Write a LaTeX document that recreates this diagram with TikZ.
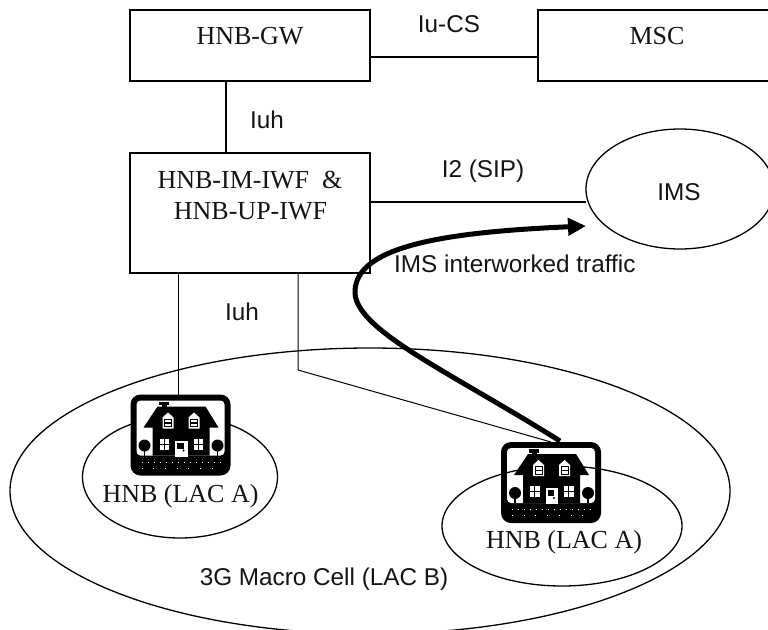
\documentclass[tikz,border=0pt]{standalone}
\usepackage{fontspec}
\setmainfont{Liberation Serif}
\newfontfamily\lsans{Liberation Sans}
\usetikzlibrary{shapes.geometric,arrows.meta}
\tikzset{
  boxnode/.style={draw=black,line width=1.7pt,rectangle,inner sep=0pt,outer sep=0pt},
  ellnode/.style={draw=black,line width=1.3pt,ellipse,inner sep=0pt,outer sep=0pt},
  link/.style={draw=black,line width=1.7pt},
  thinlink/.style={draw=black,line width=1pt},
  serif/.style={font=\fontsize{26}{30}\selectfont,anchor=base,inner sep=0pt,text=black!92},
  sans/.style={font=\lsans\fontsize{24.3}{28}\selectfont,anchor=base,inner sep=0pt,text=black!92},
  hnbicon/.style={rectangle,rounded corners=10pt,inner sep=0pt,outer sep=0pt,minimum width=100pt,minimum height=81pt,fill=black},
}
\newcommand{\hnbsky}[2]{%
\begin{scope}[shift={(#1,#2)}]
  \fill[white,rounded corners=4pt] (6,6) -- (94,6) -- (94,61) -- (6,61) -- cycle;
\end{scope}}
\newcommand{\hnbdetail}[2]{%
\begin{scope}[shift={(#1,#2)}]
  \fill[black] (13,33) -- (27,12) -- (75,12) -- (88,33) -- (79,33) -- (79,61) -- (22,61) -- (22,33) -- cycle;
  \fill[black] (28,7) rectangle (38,10.5);
  \fill[black] (31,10) rectangle (36,13);
  \foreach \dx in {32,58}{
    \fill[white] (\dx,23) -- (\dx+5.5,18) -- (\dx+11,23) -- (\dx+11,34) -- (\dx,34) -- cycle;
    \fill[black] (\dx+1.5,24) rectangle (\dx+9.5,32.5);
    \fill[white] (\dx+2.5,25) rectangle (\dx+8.5,27.7);
    \fill[white] (\dx+2.5,29) rectangle (\dx+8.5,31.5);
  }
  \foreach \wx in {29,63}{
    \fill[white] (\wx,44) rectangle (\wx+4.2,49);
    \fill[white] (\wx+5.2,44) rectangle (\wx+9.5,49);
    \fill[white] (\wx,50) rectangle (\wx+4.2,55);
    \fill[white] (\wx+5.2,50) rectangle (\wx+9.5,55);
  }
  \fill[white] (44.5,46) rectangle (57,62);
  \fill[black] (46.5,48) rectangle (53,54);
  \fill[black] (53,56) circle (1.1);
  \foreach \tx in {14,87}{
    \fill[black] (\tx,51) circle (6);
    \fill[black] (\tx-0.8,52) rectangle (\tx+0.8,61);
  }
  \foreach \gx in {0,...,13}{
    \fill[white] (11+\gx*6,67) rectangle +(1,1);
  }
  \foreach \gx in {0,...,6}{
    \fill[white] (11+\gx*11.7,73) rectangle +(1,1);
  }
\end{scope}}
\begin{document}
\begin{tikzpicture}[x=1pt,y=-1pt]
\useasboundingbox (0,0) rectangle (768,629);
\clip (0,0) rectangle (768,629);
\fill[white] (0,0) rectangle (768,629);

% boxes
\node[boxnode,minimum width=240pt,minimum height=71pt] (gw) at (250,45.5) {};
\node[boxnode,minimum width=240pt,minimum height=71pt] (msc) at (658,45.5) {};
\node[boxnode,minimum width=240pt,minimum height=120pt] (iwf) at (250,213) {};
\node[ellnode,minimum width=188pt,minimum height=120pt] (ims) at (680,189) {};

% cells
\node[ellnode,minimum width=720pt,minimum height=286pt] (macro) at (370,491) {};
\node[ellnode,minimum width=195pt,minimum height=122pt] (cella) at (180,477) {};
\node[ellnode,minimum width=240pt,minimum height=120pt] (cellb) at (562,526) {};

% HNB icons
\node[hnbicon] (hnba) at (180.5,435) {};
\hnbsky{130.5}{394.5}
\hnbdetail{130.5}{394.5}
\node[hnbicon] (hnbb) at (551,482.5) {};
\hnbsky{501}{442}
\begin{scope}
\clip (507,448) rectangle (595,503);
\draw[line width=1.3pt] (562,526) ellipse [x radius=120,y radius=60];
\end{scope}
\hnbdetail{501}{442}

% connector helpers
\coordinate (csy) at (0,57);
\coordinate (sipy) at (0,202);
\coordinate (iuhx) at (226,0);
\coordinate (ax) at (178,0);
\coordinate (bx) at (298,0);
\coordinate (bcorner) at (298,370);
\coordinate (flowstart) at (560,441);
\coordinate (flowend) at (586,226);

% connectors
\draw[link] (gw.east |- csy) -- (msc.west |- csy);
\draw[link] (iuhx |- gw.south) -- (iuhx |- iwf.north);
\draw[link] (iwf.east |- sipy) -- (ims.west |- sipy);
\draw[thinlink] (ax |- iwf.south) -- (ax |- hnba.north);
\draw[thinlink] (bx |- iwf.south) -- (bcorner) -- (hnbb.north);

% traffic arrow
\draw[line width=5pt,-{Triangle[length=18pt,width=17pt]}] (flowstart)
  .. controls (450,372) and (355,330) .. (355,292)
  .. controls (355,245) and (450,232) .. (flowend);

% labels
\node[serif] (tgw) at (250,44) {HNB-GW};
\node[serif] (tmsc) at (657,44) {MSC};
\node[serif] (tiwfa) at (250,188) {HNB-IM-IWF\ \ \&};
\node[serif] (tiwfb) at (250.5,219) {HNB-UP-IWF};
\node[serif] (thnba) at (180.5,502) {HNB (LAC A)};
\node[serif] (thnbb) at (564,548) {HNB (LAC A)};
\node[sans] (tcs) at (449,32) {Iu-CS};
\node[sans] (tiuha) at (267,128) {Iuh};
\node[sans] (tsip) at (483,177) {I2 (SIP)};
\node[sans] (tims) at (679,200) {IMS};
\node[sans,anchor=base west] (ttraffic) at (394,272) {IMS interworked traffic};
\node[sans] (tiuhb) at (242,320) {Iuh};
\node[sans] (tmacro) at (324,585) {3G Macro Cell (LAC B)};
\end{tikzpicture}
\end{document}
